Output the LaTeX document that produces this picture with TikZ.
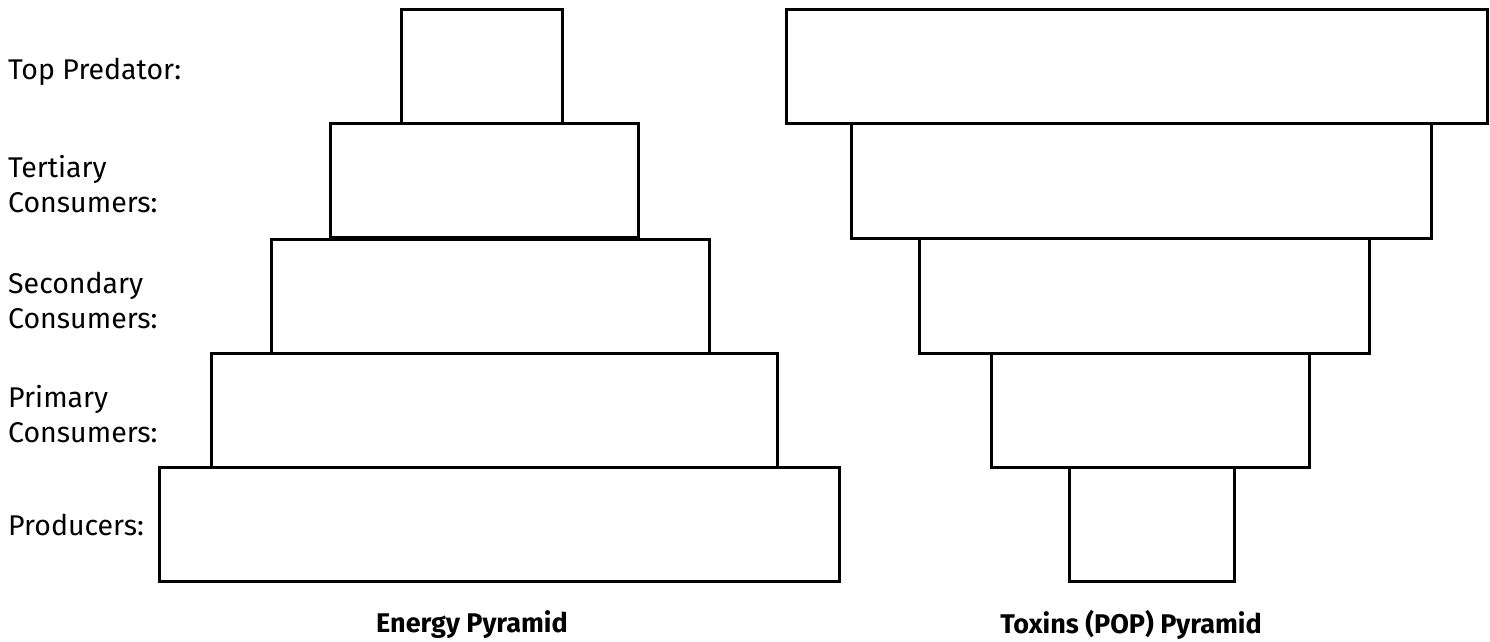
\documentclass[tikz,border=0pt]{standalone}
\usepackage{fontspec}
\setmainfont{Fira Sans}

\tikzset{
  tier/.style={draw, line width=3pt, inner sep=0pt, outer sep=0pt},
  level/.style={anchor=west, align=left, font=\fontsize{28.5}{35}\selectfont, inner sep=0pt},
  caption/.style={font=\fontsize{27}{30}\selectfont\bfseries, inner sep=0pt}
}

\begin{document}
\begin{tikzpicture}[x=1pt, y=-1pt]
\useasboundingbox (0,0) rectangle (1490,642);
% level names
\node[level] (ltop) at (8,72){Top Predator:};
\node[level] (lter) at (8,184){Tertiary\\Consumers:};
\node[level] (lsec) at (8,300){Secondary\\Consumers:};
\node[level] (lpri) at (8,414){Primary\\Consumers:};
\node[level] (lpro) at (8,525){Producers:};
% energy pyramid
\node[tier, minimum width=161pt, minimum height=113pt] (etop) at (481.5,66.5){};
\node[tier, minimum width=308pt, minimum height=114pt] (eter) at (484,180){};
\node[tier, minimum width=438pt, minimum height=114pt] (esec) at (490,296){};
\node[tier, minimum width=566pt, minimum height=114pt] (epri) at (494,410){};
\node[tier, minimum width=680pt, minimum height=114pt] (epro) at (499,524){};
% toxins pyramid
\node[tier, minimum width=701pt, minimum height=113pt] (ttop) at (1136.5,66.5){};
\node[tier, minimum width=580pt, minimum height=115pt] (tter) at (1141,180.5){};
\node[tier, minimum width=450pt, minimum height=115pt] (tsec) at (1144,295.5){};
\node[tier, minimum width=318pt, minimum height=114pt] (tpri) at (1150,410){};
\node[tier, minimum width=165pt, minimum height=114pt] (tpro) at (1151.5,524){};
% titles
\node[caption] (etitle) at (472,625){Energy Pyramid};
\node[caption] (ttitle) at (1131,625){Toxins (POP) Pyramid};
\end{tikzpicture}
\end{document}
